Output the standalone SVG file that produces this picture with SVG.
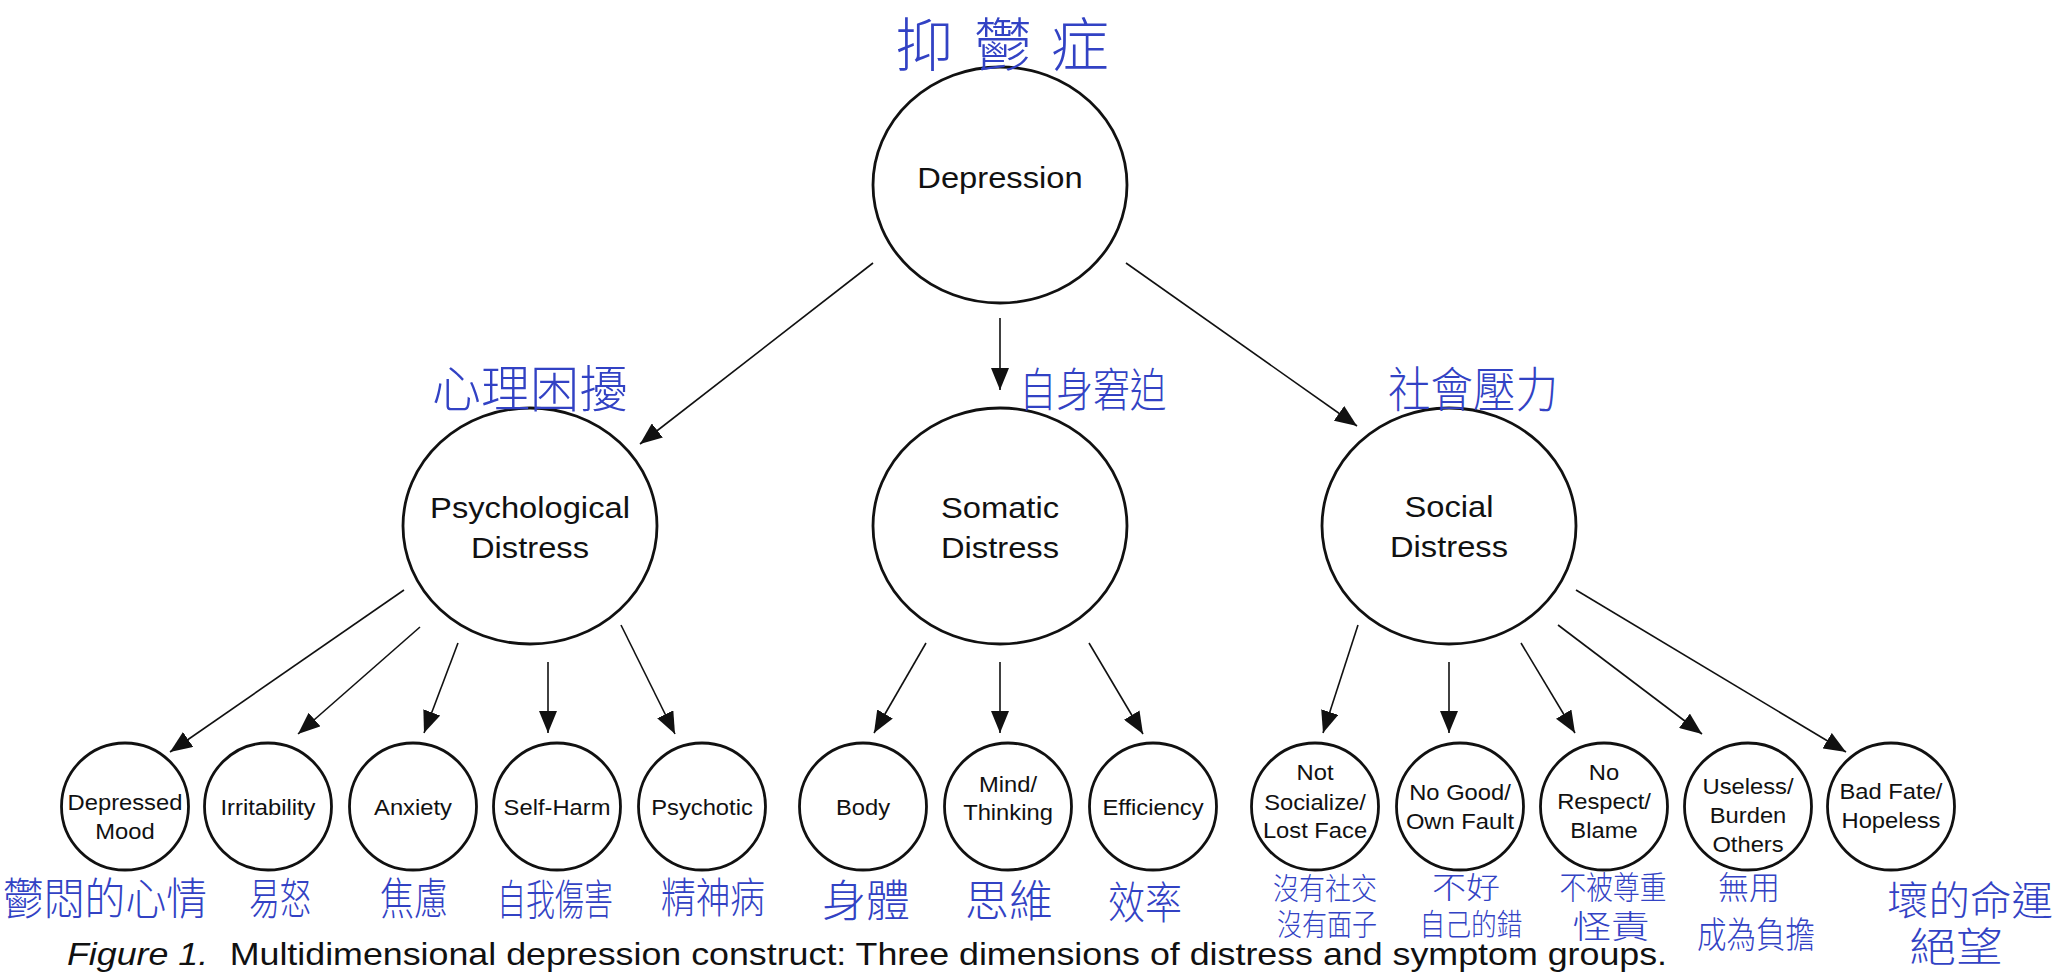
<svg xmlns="http://www.w3.org/2000/svg" width="2059" height="972" viewBox="0 0 2059 972">
  <defs>
    <marker id="ah" markerUnits="userSpaceOnUse" markerWidth="22" markerHeight="18" refX="22" refY="9" orient="auto">
      <path d="M0,0 L22,9 L0,18 z" fill="#111"/>
    </marker>
    <style>
      .node { fill: #fff; stroke: #111; stroke-width: 2.8; }
      .lbl { font-family: "Liberation Sans", Arial, sans-serif; fill: #111; text-anchor: middle; }
      .big { font-size: 30px; }
      .small { font-size: 22px; }
      .cap { font-family: "Liberation Sans", Arial, sans-serif; font-size: 31px; fill: #111; }
      .hw { font-family: "Noto Sans CJK TC", "Noto Sans CJK SC", sans-serif; fill: #3242c4; text-anchor: middle; font-weight: 300; }
      .edge { stroke: #111; stroke-width: 1.6; fill: none; marker-end: url(#ah); }
    </style>
  </defs>
  <rect width="2059" height="972" fill="#fff"/>

  <g id="connectors">
    <line class="edge" x1="873" y1="263" x2="640" y2="444"/>
    <line class="edge" x1="1000" y1="318" x2="1000" y2="390"/>
    <line class="edge" x1="1126" y1="263" x2="1357" y2="426"/>
    <line class="edge" x1="404" y1="590" x2="170" y2="752"/>
    <line class="edge" x1="420" y1="627" x2="298" y2="734"/>
    <line class="edge" x1="458" y1="643" x2="424" y2="733"/>
    <line class="edge" x1="548" y1="662" x2="548" y2="733"/>
    <line class="edge" x1="621" y1="625" x2="675" y2="734"/>
    <line class="edge" x1="926" y1="643" x2="874" y2="733"/>
    <line class="edge" x1="1000" y1="662" x2="1000" y2="733"/>
    <line class="edge" x1="1089" y1="643" x2="1143" y2="734"/>
    <line class="edge" x1="1358" y1="625" x2="1323" y2="733"/>
    <line class="edge" x1="1449" y1="662" x2="1449" y2="733"/>
    <line class="edge" x1="1521" y1="643" x2="1575" y2="733"/>
    <line class="edge" x1="1558" y1="625" x2="1702" y2="734"/>
    <line class="edge" x1="1576" y1="590" x2="1846" y2="752"/>
  </g>

  <g id="node-depression">
    <ellipse class="node" cx="1000" cy="185" rx="127" ry="118"/>
    <text class="lbl big" transform="translate(1000 0) scale(1.09 1)" x="0" y="188">Depression</text>
    <text class="hw" font-size="58" x="924 1003 1080" y="66">抑鬱症</text>
  </g>

  <g id="node-psychological">
    <ellipse class="node" cx="530" cy="526" rx="127" ry="118"/>
    <text class="lbl big" transform="translate(530 0) scale(1.09 1)" x="0" y="518">Psychological</text>
    <text class="lbl big" transform="translate(530 0) scale(1.09 1)" x="0" y="558">Distress</text>
    <text class="hw" font-size="50" x="530" y="407" textLength="196" lengthAdjust="spacingAndGlyphs">心理困擾</text>
  </g>

  <g id="node-somatic">
    <ellipse class="node" cx="1000" cy="526" rx="127" ry="118"/>
    <text class="lbl big" transform="translate(1000 0) scale(1.09 1)" x="0" y="518">Somatic</text>
    <text class="lbl big" transform="translate(1000 0) scale(1.09 1)" x="0" y="558">Distress</text>
    <text class="hw" font-size="46" x="1093" y="406" textLength="147" lengthAdjust="spacingAndGlyphs">自身窘迫</text>
  </g>

  <g id="node-social">
    <ellipse class="node" cx="1449" cy="526" rx="127" ry="118"/>
    <text class="lbl big" transform="translate(1449 0) scale(1.09 1)" x="0" y="517">Social</text>
    <text class="lbl big" transform="translate(1449 0) scale(1.09 1)" x="0" y="557">Distress</text>
    <text class="hw" font-size="48" x="1473" y="407" textLength="170" lengthAdjust="spacingAndGlyphs">社會壓力</text>
  </g>

  <g id="node-depressed-mood">
    <ellipse class="node" cx="125" cy="806.5" rx="63.5" ry="63.5"/>
    <text class="lbl small" transform="translate(125 0) scale(1.08 1)" x="0" y="810">Depressed</text>
    <text class="lbl small" transform="translate(125 0) scale(1.08 1)" x="0" y="839">Mood</text>
    <text class="hw" font-size="44" x="105" y="915" textLength="204" lengthAdjust="spacingAndGlyphs">鬱悶的心情</text>
  </g>

  <g id="node-irritability">
    <ellipse class="node" cx="268" cy="806.5" rx="63.5" ry="63.5"/>
    <text class="lbl small" transform="translate(268 0) scale(1.08 1)" x="0" y="815">Irritability</text>
    <text class="hw" font-size="44" x="280" y="915" textLength="62" lengthAdjust="spacingAndGlyphs">易怒</text>
  </g>

  <g id="node-anxiety">
    <ellipse class="node" cx="413" cy="806.5" rx="63.5" ry="63.5"/>
    <text class="lbl small" transform="translate(413 0) scale(1.08 1)" x="0" y="815">Anxiety</text>
    <text class="hw" font-size="44" x="414" y="915" textLength="68" lengthAdjust="spacingAndGlyphs">焦慮</text>
  </g>

  <g id="node-self-harm">
    <ellipse class="node" cx="557" cy="806.5" rx="63.5" ry="63.5"/>
    <text class="lbl small" transform="translate(557 0) scale(1.08 1)" x="0" y="815">Self-Harm</text>
    <text class="hw" font-size="42" x="555" y="915" textLength="116" lengthAdjust="spacingAndGlyphs">自我傷害</text>
  </g>

  <g id="node-psychotic">
    <ellipse class="node" cx="702" cy="806.5" rx="63.5" ry="63.5"/>
    <text class="lbl small" transform="translate(702 0) scale(1.08 1)" x="0" y="815">Psychotic</text>
    <text class="hw" font-size="42" x="713" y="913" textLength="104" lengthAdjust="spacingAndGlyphs">精神病</text>
  </g>

  <g id="node-body">
    <ellipse class="node" cx="863" cy="806.5" rx="63.5" ry="63.5"/>
    <text class="lbl small" transform="translate(863 0) scale(1.08 1)" x="0" y="815">Body</text>
    <text class="hw" font-size="44" x="866" y="917" textLength="88" lengthAdjust="spacingAndGlyphs">身體</text>
  </g>

  <g id="node-mind-thinking">
    <ellipse class="node" cx="1008" cy="806.5" rx="63.5" ry="63.5"/>
    <text class="lbl small" transform="translate(1008 0) scale(1.08 1)" x="0" y="792">Mind/</text>
    <text class="lbl small" transform="translate(1008 0) scale(1.08 1)" x="0" y="820">Thinking</text>
    <text class="hw" font-size="44" x="1009" y="917" textLength="88" lengthAdjust="spacingAndGlyphs">思維</text>
  </g>

  <g id="node-efficiency">
    <ellipse class="node" cx="1153" cy="806.5" rx="63.5" ry="63.5"/>
    <text class="lbl small" transform="translate(1153 0) scale(1.08 1)" x="0" y="815">Efficiency</text>
    <text class="hw" font-size="44" x="1145" y="919" textLength="74" lengthAdjust="spacingAndGlyphs">效率</text>
  </g>

  <g id="node-not-socialize">
    <ellipse class="node" cx="1315" cy="806.5" rx="63.5" ry="63.5"/>
    <text class="lbl small" transform="translate(1315 0) scale(1.08 1)" x="0" y="780">Not</text>
    <text class="lbl small" transform="translate(1315 0) scale(1.08 1)" x="0" y="810">Socialize/</text>
    <text class="lbl small" transform="translate(1315 0) scale(1.08 1)" x="0" y="838">Lost Face</text>
    <text class="hw" font-size="30" x="1325" y="899" textLength="104" lengthAdjust="spacingAndGlyphs">沒有社交</text>
    <text class="hw" font-size="30" x="1327" y="935" textLength="100" lengthAdjust="spacingAndGlyphs">沒有面子</text>
  </g>

  <g id="node-no-good">
    <ellipse class="node" cx="1460" cy="806.5" rx="63.5" ry="63.5"/>
    <text class="lbl small" transform="translate(1460 0) scale(1.08 1)" x="0" y="800">No Good/</text>
    <text class="lbl small" transform="translate(1460 0) scale(1.08 1)" x="0" y="829">Own Fault</text>
    <text class="hw" font-size="30" x="1466" y="898" textLength="68" lengthAdjust="spacingAndGlyphs">不好</text>
    <text class="hw" font-size="30" x="1471" y="935" textLength="103" lengthAdjust="spacingAndGlyphs">自己的錯</text>
  </g>

  <g id="node-no-respect">
    <ellipse class="node" cx="1604" cy="806.5" rx="63.5" ry="63.5"/>
    <text class="lbl small" transform="translate(1604 0) scale(1.08 1)" x="0" y="780">No</text>
    <text class="lbl small" transform="translate(1604 0) scale(1.08 1)" x="0" y="809">Respect/</text>
    <text class="lbl small" transform="translate(1604 0) scale(1.08 1)" x="0" y="838">Blame</text>
    <text class="hw" font-size="32" x="1613" y="899" textLength="107" lengthAdjust="spacingAndGlyphs">不被尊重</text>
    <text class="hw" font-size="32" x="1611" y="938" textLength="77" lengthAdjust="spacingAndGlyphs">怪責</text>
  </g>

  <g id="node-useless">
    <ellipse class="node" cx="1748" cy="806.5" rx="63.5" ry="63.5"/>
    <text class="lbl small" transform="translate(1748 0) scale(1.08 1)" x="0" y="794">Useless/</text>
    <text class="lbl small" transform="translate(1748 0) scale(1.08 1)" x="0" y="823">Burden</text>
    <text class="lbl small" transform="translate(1748 0) scale(1.08 1)" x="0" y="852">Others</text>
    <text class="hw" font-size="32" x="1749" y="899" textLength="62" lengthAdjust="spacingAndGlyphs">無用</text>
    <text class="hw" font-size="36" x="1756" y="948" textLength="118" lengthAdjust="spacingAndGlyphs">成為負擔</text>
  </g>

  <g id="node-bad-fate">
    <ellipse class="node" cx="1891" cy="806.5" rx="63.5" ry="63.5"/>
    <text class="lbl small" transform="translate(1891 0) scale(1.08 1)" x="0" y="799">Bad Fate/</text>
    <text class="lbl small" transform="translate(1891 0) scale(1.08 1)" x="0" y="828">Hopeless</text>
    <text class="hw" font-size="40" x="1970" y="915" textLength="166" lengthAdjust="spacingAndGlyphs">壞的命運</text>
    <text class="hw" font-size="40" x="1956" y="961" textLength="93" lengthAdjust="spacingAndGlyphs">絕望</text>
  </g>

  <g id="caption">
    <text class="cap" transform="translate(67 965) scale(1.155 1)" x="0" y="0"><tspan font-style="italic">Figure 1.</tspan><tspan dx="10"> Multidimensional depression construct: Three dimensions of distress and symptom groups.</tspan></text>
  </g>
</svg>
